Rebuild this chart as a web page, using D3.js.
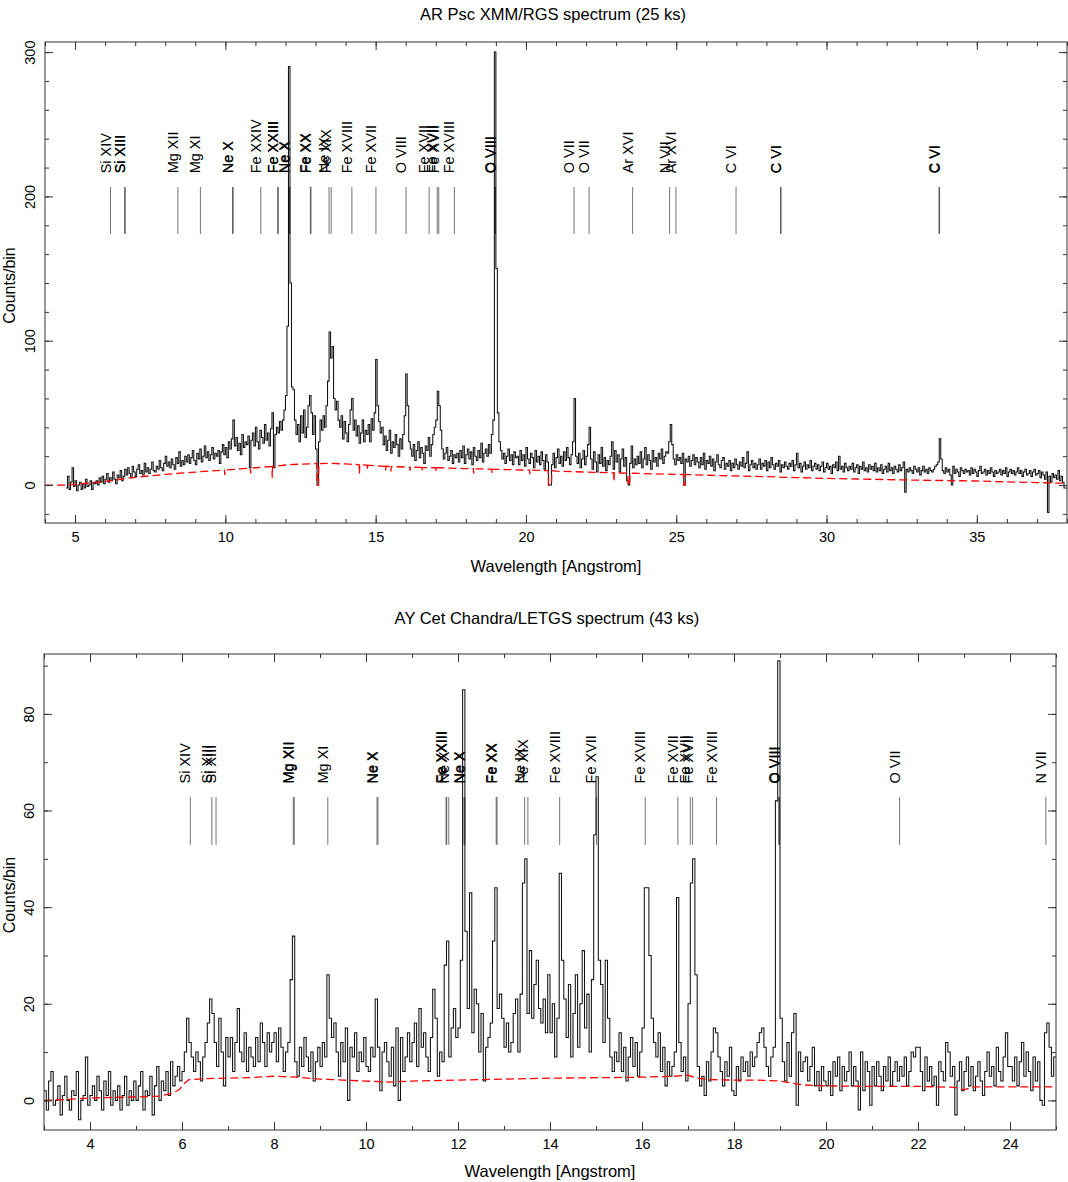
<!DOCTYPE html>
<html>
<head>
<meta charset="utf-8">
<script src="https://cdnjs.cloudflare.com/ajax/libs/d3/7.8.5/d3.min.js"></script>
<style>
body { margin: 0; background: #fff; }
svg text { font-family: "Liberation Sans", Arial, Helvetica, sans-serif; }
</style>
</head>
<body>
<svg id="chart" width="1068" height="1182"></svg>
<script>
"use strict";

// AR Psc, XMM/RGS: counts per 0.05 A bin, first bin starts at 4.70 A
const rgsStart = 4.70;
const rgsBin = 0.05;
const rgsCounts = [
    -2, 6, -3, 2, 12, -1, 3, -4, 0, 2, -3, 1, -2, 4, -1, 0, 3, -3, 2, 1,
    3, 0, 5, 2, 6, 1, 4, 8, 2, 5, 3, 9, 4, 1, 7, 5, 10, 3, 6, 11,
    7, 12, 8, 5, 13, 9, 6, 11, 14, 8, 10, 7, 15, 9, 12, 8, 11, 16, 10, 9,
    13, 11, 17, 12, 10, 15, 20, 13, 16, 12, 18, 14, 11, 19, 15, 23, 13, 17, 14, 20,
    16, 21, 15, 19, 24, 17, 14, 22, 18, 25, 16, 20, 27, 19, 23, 17, 21, 26, 18, 22,
    20, 24, 15, 23, 28, 21, 26, 19, 30, 25, 32, 45, 27, 33, 24, 29, 21, 35, 26, 30,
    28, 34, 12, 31, 36, 27, 40, 30, 25, 38, 33, 29, 42, 31, 36, 27, 39, 50, 12, 35,
    40, 36, 44, 38, 45, 52, 62, 110, 290, 140, 68, 66, 45, 35, 42, 30, 48, 36, 52, 33,
    40, 55, 62, 50, 35, 48, 25, 0, 30, 45, 38, 48, 40, 55, 72, 106, 88, 96, 60, 52,
    58, 45, 40, 48, 32, 44, 36, 30, 42, 52, 60, 38, 45, 34, 41, 29, 36, 45, 30, 38,
    35, 42, 30, 46, 38, 50, 87, 55, 44, 36, 40, 28, 34, 24, 31, 38, 22, 30, 26, 35,
    28, 20, 32, 25, 35, 48, 77, 55, 30, 25, 20, 28, 17, 24, 30, 19, 26, 22, 15, 27,
    24, 33, 20, 28, 35, 40, 45, 65, 55, 38, 25, 18, 22, 26, 17, 20, 24, 15, 21, 19,
    22, 16, 24, 19, 27, 15, 21, 25, 18, 23, 14, 26, 20, 17, 24, 19, 29, 16, 22, 25,
    20, 28, 22, 35, 45, 300, 150, 50, 30, 24, 18, 22, 15, 20, 25, 17, 21, 14, 23, 19,
    20, 14, 24, 17, 21, 13, 26, 18, 15, 22, 19, 12, 24, 16, 20, 14, 23, 17, 11, 21,
    16, 0, 0, 14, 22, 12, 19, 25, 15, 20, 13, 23, 17, 26, 19, 14, 21, 30, 60, 20,
    15, 22, 12, 18, 24, 14, 20, 28, 40, 18, 11, 23, 16, 9, 21, 15, 26, 13, 19, 10,
    17, 14, 20, 30, 11, 24, 16, 21, 9, 18, 25, 13, 19, 3, 0, 15, 27, 12, 18, 14,
    20, 15, 23, 12, 18, 26, 14, 21, 17, 11, 24, 16, 19, 13, 22, 18, 25, 15, 20, 23,
    22, 30, 42, 28, 18, 14, 21, 17, 19, 15, 22, 0, 18, 16, 20, 13, 17, 21, 14, 19,
    16, 12, 19, 14, 22, 11, 17, 15, 20, 13, 18, 10, 16, 21, 14, 12, 17, 19, 11, 15,
    13, 17, 10, 15, 12, 18, 14, 11, 16, 13, 19, 12, 15, 23, 10, 14, 17, 12, 15, 11,
    14, 18, 11, 15, 13, 17, 10, 16, 12, 19, 14, 11, 15, 13, 17, 9, 14, 12, 16, 13,
    11, 15, 13, 17, 10, 14, 22, 12, 15, 9, 13, 16, 11, 14, 12, 17, 10, 13, 15, 11,
    14, 10, 13, 16, 9, 12, 15, 11, 13, 8, 14, 12, 16, 10, 20, 11, 13, 9, 15, 12,
    10, 13, 11, 15, 9, 12, 14, 8, 13, 11, 16, 10, 12, 9, 14, 11, 13, 10, 15, 9,
    12, 10, 14, 8, 11, 13, 9, 15, 10, 12, 8, 13, 11, 9, 14, 10, 12, 16, -5, 11,
    9, 12, 10, 8, 13, 11, 9, 12, 7, 10, 13, 9, 11, 8, 12, 10, 9, 11, 13, 14,
    16, 32, 18, 10, 8, 12, 9, 11, 7, 0, 13, 8, 11, 9, 6, 12, 10, 8, 11, 9,
    10, 7, 12, 8, 11, 9, 6, 10, 13, 8, 9, 11, 7, 10, 8, 12, 9, 6, 10, 8,
    9, 11, 7, 10, 8, 12, 6, 9, 11, 8, 10, 7, 9, 12, 8, 10, 6, 9, 11, 7,
    8, 10, 6, 9, 11, 7, 8, 10, 5, 9, 7, 4, 9, -19, 6, 2, 8, 5, 7, 4,
    10, 3, 6, 2, -2, -2
];

// background model (red dashed), knots in wavelength / counts
const rgsModelWave = [4.0, 4.7, 5.0, 5.5, 6.0, 6.5, 7.0, 7.5, 8.0, 8.5, 9.0, 9.5,
    9.97, 9.98, 9.99, 10.5, 10.83, 10.84, 10.85, 11.0, 11.55, 11.56, 11.57, 12.0, 12.5,
    13.04, 13.05, 13.10, 13.11, 13.5, 14.0, 14.45, 14.46, 14.47, 14.72, 14.73, 14.74,
    15.0, 15.32, 15.33, 15.34, 15.5, 15.51, 15.52, 16.0, 16.14, 16.15, 16.16,
    16.53, 16.54, 16.55, 17.0, 17.01, 17.02, 18.0, 18.25, 18.26, 18.27, 18.86, 18.87, 18.88,
    19.0, 20.0, 20.12, 20.13, 20.14, 20.74, 20.75, 20.85, 20.86, 21.0, 22.0,
    22.92, 22.93, 22.94, 23.0, 23.39, 23.40, 23.45, 23.46, 24.0, 25.0, 25.24, 25.25, 25.30, 25.31,
    26.0, 27.0, 28.0, 29.0, 30.0, 31.0, 32.0, 33.0, 34.0, 35.0, 36.0, 37.0, 38.0];
const rgsModelCounts = [0, 0, 0.5, 1.5, 2.5, 4.0, 5.3, 6.4, 7.4, 8.2, 9.0, 9.7,
    10.4, 7.0, 10.4, 11.2, 11.8, 8.0, 11.8, 12.0, 12.9, 5.0, 12.9, 13.9, 14.5,
    14.9, 0, 0, 14.9, 15.0, 14.6, 14.1, 8.0, 14.1, 13.8, 10.5, 13.8,
    13.3, 13.0, 10.0, 13.0, 12.8, 9.5, 12.8, 12.5, 12.4, 10.0, 12.4,
    12.2, 9.5, 12.2, 12.0, 9.5, 12.0, 11.4, 11.3, 8.0, 11.3, 11.0, 8.0, 11.0,
    10.9, 10.4, 10.3, 7.5, 10.3, 10.0, 0, 0, 10.0, 9.6, 9.0,
    8.5, 2.5, 8.5, 8.4, 8.2, 0, 0, 8.2, 7.9, 7.4, 7.3, 0, 0, 7.3,
    6.8, 6.3, 5.8, 5.2, 4.6, 4.2, 3.8, 3.4, 3.1, 2.8, 2.2, 1.7, 1.2];

const rgsLineNames = ["Si XIV", "Si XIII", "Si XIII", "Mg XII", "Mg XI", "Ne X", "Ne X",
    "Fe XXIV", "Fe XXIII", "Fe XXIII", "Ne X", "Ne X", "Fe XX", "Fe XX", "Ne IX", "Fe XIX",
    "Fe XVIII", "Fe XVII", "O VIII", "Fe XVII", "Fe XVII", "Fe XVII", "Fe XVIII",
    "O VIII", "O VIII", "O VII", "O VII", "Ar XVI", "N VII", "Ar XVI",
    "C VI", "C VI", "C VI", "C VI", "C VI"];
const rgsLineWave = [6.18, 6.65, 6.67, 8.42, 9.17, 10.24, 10.26,
    11.18, 11.74, 11.76, 12.13, 12.15, 12.83, 12.85, 13.45, 13.52,
    14.21, 15.01, 16.01, 16.78, 17.05, 17.10, 17.62,
    18.97, 18.99, 21.60, 22.10, 23.55, 24.78, 24.99,
    26.99, 28.47, 28.49, 33.74, 33.76];

// AY Cet, Chandra/LETGS: counts per 0.05 A bin, first bin starts at 3.00 A
const letgsStart = 3.00;
const letgsBin = 0.05;
const letgsCounts = [
    2, -2, 4, 6, -1, 0, 3, -3, 1, 5, 0, -2, 2, 1, 6, -4, 0, 1, 9, -1,
    1, 3, 0, 5, 2, -2, 4, 1, 6, -1, 2, 0, 3, -2, 1, 5, -1, 2, 0, 4,
    0, 3, 6, -2, 2, 1, 5, -3, 3, 7, 0, 4, 2, 6, 1, 8, 3, 5, 7, 4,
    6, 10, 17, 12, 9, 6, 10, 8, 4, 9, 12, 16, 21, 18, 12, 7, 17, 10, 3, 13,
    9, 13, 6, 12, 19, 10, 8, 14, 6, 11, 9, 7, 13, 8, 16, 12, 7, 14, 10, 12,
    14, 8, 15, 11, 6, 10, 12, 25, 34, 8, 5, 11, 7, 13, 9, 6, 10, 4, 8, 11,
    7, 12, 9, 26, 17, 13, 16, 10, 5, 12, 8, 15, 0, 11, 9, 14, 6, 10, 8, 13,
    7, 6, 11, 9, 21, 11, 2, 10, 12, 8, 5, 11, 3, 15, 0, 13, 6, 9, 14, 8,
    12, 16, 7, 19, 11, 14, 9, 6, 13, 23, 17, 5, 10, 8, 28, 33, 9, 15, 19, 13,
    15, 29, 85, 35, 19, 43, 14, 23, 20, 10, 18, 4, 11, 13, 16, 33, 44, 19, 22, 17,
    11, 16, 10, 12, 18, 21, 10, 22, 45, 50, 18, 31, 17, 24, 29, 19, 16, 21, 14, 26,
    14, 20, 9, 17, 47, 29, 21, 13, 24, 9, 18, 26, 11, 20, 31, 15, 22, 10, 25, 55,
    67, 29, 24, 12, 29, 17, 9, 6, 10, 8, 14, 6, 11, 4, 9, 13, 7, 12, 5, 10,
    15, 44, 44, 30, 17, 12, 9, 14, 6, 11, 3, 8, 5, 7, 10, 42, 12, 6, 9, 4,
    20, 45, 50, 26, 7, 3, 5, 1, 8, 4, 10, 15, 14, 9, 6, 3, 8, 5, 11, 2,
    1, 7, 4, 9, 6, 8, 5, 10, 7, 9, 12, 14, 15, 11, 7, 5, 9, 11, 62, 91,
    17, 8, 4, 12, 5, 14, 18, -1, 10, 6, 8, 9, 4, 7, 11, 3, 6, 2, 7, 4,
    3, 6, 1, 8, 5, 9, 2, 7, 4, 6, 10, 3, 7, 4, -2, 10, 2, 8, 6, -1,
    7, 3, 8, 5, 2, 7, 4, 9, 3, 6, 8, 4, 7, 5, 9, 3, 6, 10, 9, 11,
    11, 6, 2, 9, 4, 7, 3, 5, -1, 8, 6, 4, 12, 10, 5, 7, -3, 4, 8, 2,
    6, 9, 3, 7, 2, 5, 8, 4, 1, 6, 10, 5, 7, 3, 11, 6, 4, 9, 14, 7,
    7, 4, 9, 3, 8, 12, 5, 10, 6, 2, 9, 4, 8, 0, -1, 14, 16, 11, 5, 9
];

const letgsModelWave = [3.0, 3.5, 4.0, 4.5, 5.0, 5.5, 5.8, 5.95, 6.05, 6.15, 6.5, 7.0, 7.5,
    8.0, 8.5, 9.0, 9.5, 10.0, 10.5, 11.0, 12.0, 13.0, 14.0, 15.0, 16.0, 16.7, 17.0, 17.2,
    17.5, 18.0, 18.5, 19.0, 19.3, 19.5, 20.0, 21.0, 22.0, 22.8, 23.0, 23.2, 24.0, 25.0];
const letgsModelCounts = [0, 0.2, 0.5, 0.6, 0.7, 0.9, 1.5, 2.3, 3.5, 4.3, 4.5, 4.6, 4.7,
    5.0, 4.8, 4.4, 4.2, 4.0, 3.8, 4.0, 4.2, 4.4, 4.6, 4.7, 4.8, 5.0, 5.2, 4.6,
    4.3, 4.2, 4.2, 4.0, 3.5, 3.2, 3.0, 2.9, 2.9, 2.7, 2.2, 2.8, 2.8, 2.8];

const letgsLineNames = ["Si XIV", "Si XIII", "Si XIII", "Mg XII", "Mg XII", "Mg XI",
    "Ne X", "Ne X", "Fe XXIII", "Fe XXIII", "Ne X", "Ne X", "Ne X", "Fe XX", "Fe XX",
    "Ne IX", "Fe XIX", "Fe XVIII", "Fe XVII", "Fe XVIII", "Fe XVII", "Fe XVII", "Fe XVII",
    "Fe XVIII", "O VIII", "O VIII", "O VII", "N VII"];
const letgsLineWave = [6.18, 6.65, 6.74, 8.42, 8.44, 9.17,
    10.24, 10.26, 11.74, 11.755, 11.80, 12.13, 12.15, 12.83, 12.85,
    13.45, 13.52, 14.21, 15.01, 16.07, 16.78, 17.05, 17.10,
    17.62, 18.97, 18.99, 21.60, 24.78];

// tick values
const rgsXTicks = [5, 10, 15, 20, 25, 30, 35];
const rgsYTicks = [0, 100, 200, 300];
const letgsXTicks = [4, 6, 8, 10, 12, 14, 16, 18, 20, 22, 24];
const letgsYTicks = [0, 20, 40, 60, 80];

const svg = d3.select("#chart");

function drawPanel(p) {

    let x = d3.scaleLinear().domain(p.xDomain).range([p.left, p.right]);
    let y = d3.scaleLinear().domain(p.yDomain).range([p.bottom, p.top]);

    svg.append("clipPath").attr("id", p.id + "-clip")
        .append("rect").attr("x", p.left).attr("y", p.top)
        .attr("width", p.right - p.left).attr("height", p.bottom - p.top);

    let plot = svg.append("g").attr("clip-path", `url(#${p.id}-clip)`);

    // histogram
    let steps = p.counts.map(function (c, i) {
        return [p.start + i * p.bin, c];
    });
    steps.push([p.start + p.counts.length * p.bin, p.counts[p.counts.length - 1]]);

    let stepLine = d3.line()
        .x(function (d) { return x(d[0]); })
        .y(function (d) { return y(d[1]); })
        .curve(d3.curveStepAfter);

    plot.append("path").datum(steps)
        .attr("d", stepLine)
        .attr("fill", "none").attr("stroke", "#111").attr("stroke-width", 1.05);

    // model
    let model = p.modelWave.map(function (w, i) {
        return [w, p.modelCounts[i]];
    });
    plot.append("path").datum(model)
        .attr("d", d3.line().x(function (d) { return x(d[0]); }).y(function (d) { return y(d[1]); }))
        .attr("fill", "none").attr("stroke", "#ff0000").attr("stroke-width", 1.3)
        .attr("stroke-dasharray", "8,4");

    // line markers and labels
    let lines = p.lineWave.map(function (w, i) {
        return { wave: w, name: p.lineNames[i] };
    });

    plot.selectAll(".marker").data(lines).enter().append("line")
        .attr("class", "marker")
        .attr("x1", function (d) { return x(d.wave); })
        .attr("x2", function (d) { return x(d.wave); })
        .attr("y1", y(p.markLow)).attr("y2", y(p.markHigh))
        .attr("stroke", "#000").attr("stroke-opacity", 0.55).attr("stroke-width", 1);

    plot.selectAll(".ion").data(lines).enter().append("text")
        .attr("class", "ion")
        .attr("transform", function (d) {
            return `translate(${x(d.wave)},${y(p.labelBase)}) rotate(-90)`;
        })
        .attr("font-size", 14.5).attr("fill", "#000")
        .text(function (d) { return d.name; });

    // ticks on all four sides, pointing inward
    function clean(g) {
        g.select(".domain").remove();
        g.selectAll("line").attr("stroke", "#333");
        g.attr("font-size", 14.5).attr("font-family", null);
    }

    svg.append("g").attr("transform", `translate(0,${p.bottom})`)
        .call(d3.axisBottom(x).tickValues(p.xTicks).tickSize(-8).tickFormat(d3.format("d")))
        .call(clean)
        .call(function (g) {
            g.selectAll("text").attr("y", 19).attr("dy", null).attr("fill", "#000");
        });
    svg.append("g").attr("transform", `translate(0,${p.bottom})`)
        .call(d3.axisBottom(x).tickValues(p.xMinor).tickSize(-4).tickFormat(""))
        .call(clean);
    svg.append("g").attr("transform", `translate(0,${p.top})`)
        .call(d3.axisTop(x).tickValues(p.xTicks).tickSize(-8).tickFormat(""))
        .call(clean);
    svg.append("g").attr("transform", `translate(0,${p.top})`)
        .call(d3.axisTop(x).tickValues(p.xMinor).tickSize(-4).tickFormat(""))
        .call(clean);

    svg.append("g").attr("transform", `translate(${p.left},0)`)
        .call(d3.axisLeft(y).tickValues(p.yTicks).tickSize(-8).tickFormat(d3.format("d")))
        .call(clean)
        .call(function (g) {
            g.selectAll("text").attr("transform", "rotate(-90)")
                .attr("x", 0).attr("y", -10).attr("dy", null)
                .attr("text-anchor", "middle").attr("fill", "#000");
        });
    svg.append("g").attr("transform", `translate(${p.left},0)`)
        .call(d3.axisLeft(y).tickValues(p.yMinor).tickSize(-4).tickFormat(""))
        .call(clean);
    svg.append("g").attr("transform", `translate(${p.right},0)`)
        .call(d3.axisRight(y).tickValues(p.yTicks).tickSize(-8).tickFormat(""))
        .call(clean);
    svg.append("g").attr("transform", `translate(${p.right},0)`)
        .call(d3.axisRight(y).tickValues(p.yMinor).tickSize(-4).tickFormat(""))
        .call(clean);

    // frame
    svg.append("rect").attr("x", p.left).attr("y", p.top)
        .attr("width", p.right - p.left).attr("height", p.bottom - p.top)
        .attr("fill", "none").attr("stroke", "#333").attr("stroke-width", 1);

    // titles
    let mid = (p.left + p.right) / 2;
    svg.append("text").attr("x", mid - 3).attr("y", p.titleY)
        .attr("text-anchor", "middle").attr("font-size", 16.5).text(p.title);
    svg.append("text").attr("x", mid).attr("y", p.xLabelY)
        .attr("text-anchor", "middle").attr("font-size", 16.5).text("Wavelength [Angstrom]");
    svg.append("text")
        .attr("transform", `translate(15,${(p.top + p.bottom) / 2 + 3}) rotate(-90)`)
        .attr("text-anchor", "middle").attr("font-size", 16).text("Counts/bin");
}

drawPanel({
    id: "rgs", title: "AR Psc XMM/RGS spectrum (25 ks)",
    left: 45, right: 1067, top: 42, bottom: 523,
    xDomain: [4, 38], yDomain: [-26.3, 307],
    xTicks: rgsXTicks, xMinor: d3.range(4, 39), yTicks: rgsYTicks, yMinor: d3.range(-20, 301, 20),
    start: rgsStart, bin: rgsBin, counts: rgsCounts,
    modelWave: rgsModelWave, modelCounts: rgsModelCounts,
    lineNames: rgsLineNames, lineWave: rgsLineWave,
    markLow: 174, markHigh: 206.5, labelBase: 216,
    titleY: 20, xLabelY: 572
});

drawPanel({
    id: "letgs", title: "AY Cet Chandra/LETGS spectrum (43 ks)",
    left: 44, right: 1056, top: 654, bottom: 1130,
    xDomain: [3, 25], yDomain: [-6.13, 92.4],
    xTicks: letgsXTicks, xMinor: d3.range(3, 26), yTicks: letgsYTicks, yMinor: d3.range(0, 91, 10),
    start: letgsStart, bin: letgsBin, counts: letgsCounts,
    modelWave: letgsModelWave, modelCounts: letgsModelCounts,
    lineNames: letgsLineNames, lineWave: letgsLineWave,
    markLow: 52.9, markHigh: 62.8, labelBase: 65.6,
    titleY: 624, xLabelY: 1177
});
</script>
</body>
</html>
